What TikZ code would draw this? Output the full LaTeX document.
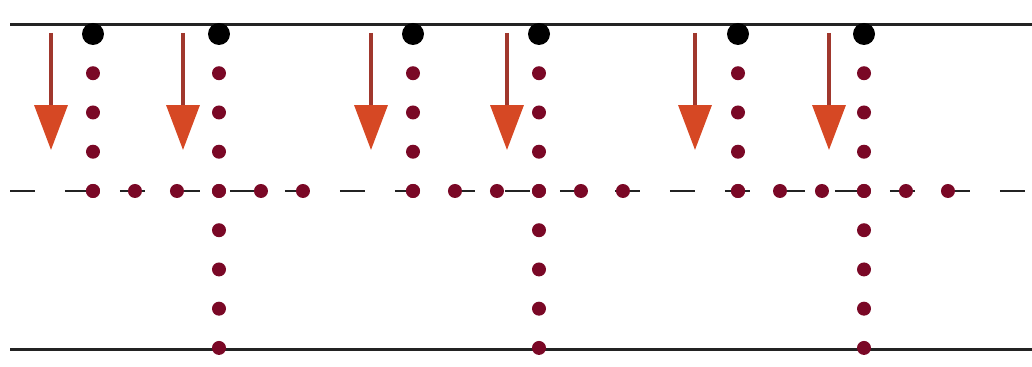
\documentclass[tikz,border=0pt]{standalone}
\usepackage{tikz}
\usetikzlibrary{arrows.meta}

\definecolor{dotred}{RGB}{122,8,38}
\definecolor{shaftred}{RGB}{160,55,45}
\definecolor{headred}{RGB}{214,72,36}
\definecolor{edgegray}{RGB}{35,35,35}

\tikzset{
	wall/.style={line width=0.06cm, edgegray},
	midline/.style={line width=0.045cm, edgegray, dash pattern=on 0.5cm off 0.6cm},
	vdots/.style={line width=0.28cm, dotred, line cap=round, dash pattern=on 0pt off 0.785cm},
	hdots/.style={line width=0.28cm, dotred, line cap=round, dash pattern=on 0pt off 0.84cm},
	blackdot/.style={draw=none, circle, fill=black, minimum size=0.44cm, inner sep=0pt},
	flow/.style={line width=0.07cm, shaftred, -{Triangle[length=0.9cm, width=0.66cm, color=headred]}}
}

\begin{document}
\begin{tikzpicture}[x=0.02cm, y=-0.02cm]
				\useasboundingbox (0,0) rectangle (1032,367);
				% walls and middle line
				\coordinate (TL) at (10,25);
				\coordinate (TR) at (1032,25);
				\coordinate (BL) at (10,350);
				\coordinate (BR) at (1032,350);
				\coordinate (ML) at (10,191);
				\coordinate (MR) at (1032,191);
				\draw[wall] (TL) -- (TR);
				\draw[wall] (BL) -- (BR);
				\draw[midline] (ML) -- (MR);
				% sources on the top wall
				\coordinate (K1) at (93,34);
				\coordinate (K2) at (219,34);
				\coordinate (K3) at (413,34);
				\coordinate (K4) at (539,34);
				\coordinate (K5) at (738,34);
				\coordinate (K6) at (864,34);
				% ends of the dotted rows
				\coordinate (M1) at (93,191);
				\coordinate (M3) at (413,191);
				\coordinate (M5) at (738,191);
				\coordinate (N1) at (303,191);
				\coordinate (N3) at (623,191);
				\coordinate (N5) at (948,191);
				\coordinate (B2) at (219,348);
				\coordinate (B4) at (539,348);
				\coordinate (B6) at (864,348);
				\draw[vdots] (K1) -- (M1);
				\draw[vdots] (K3) -- (M3);
				\draw[vdots] (K5) -- (M5);
				\draw[vdots] (K2) -- (B2);
				\draw[vdots] (K4) -- (B4);
				\draw[vdots] (K6) -- (B6);
				\draw[hdots] (M1) -- (N1);
				\draw[hdots] (M3) -- (N3);
				\draw[hdots] (M5) -- (N5);
				\node[blackdot] (S1) at (K1) {};
				\node[blackdot] (S2) at (K2) {};
				\node[blackdot] (S3) at (K3) {};
				\node[blackdot] (S4) at (K4) {};
				\node[blackdot] (S5) at (K5) {};
				\node[blackdot] (S6) at (K6) {};
				% arrows
				\coordinate (A1) at (51,33);
				\coordinate (A2) at (183,33);
				\coordinate (A3) at (371,33);
				\coordinate (A4) at (507,33);
				\coordinate (A5) at (695,33);
				\coordinate (A6) at (829,33);
				\coordinate (E1) at (51,150);
				\coordinate (E2) at (183,150);
				\coordinate (E3) at (371,150);
				\coordinate (E4) at (507,150);
				\coordinate (E5) at (695,150);
				\coordinate (E6) at (829,150);
				\draw[flow] (A1) -- (E1);
				\draw[flow] (A2) -- (E2);
				\draw[flow] (A3) -- (E3);
				\draw[flow] (A4) -- (E4);
				\draw[flow] (A5) -- (E5);
				\draw[flow] (A6) -- (E6);
			\end{tikzpicture}
\end{document}
